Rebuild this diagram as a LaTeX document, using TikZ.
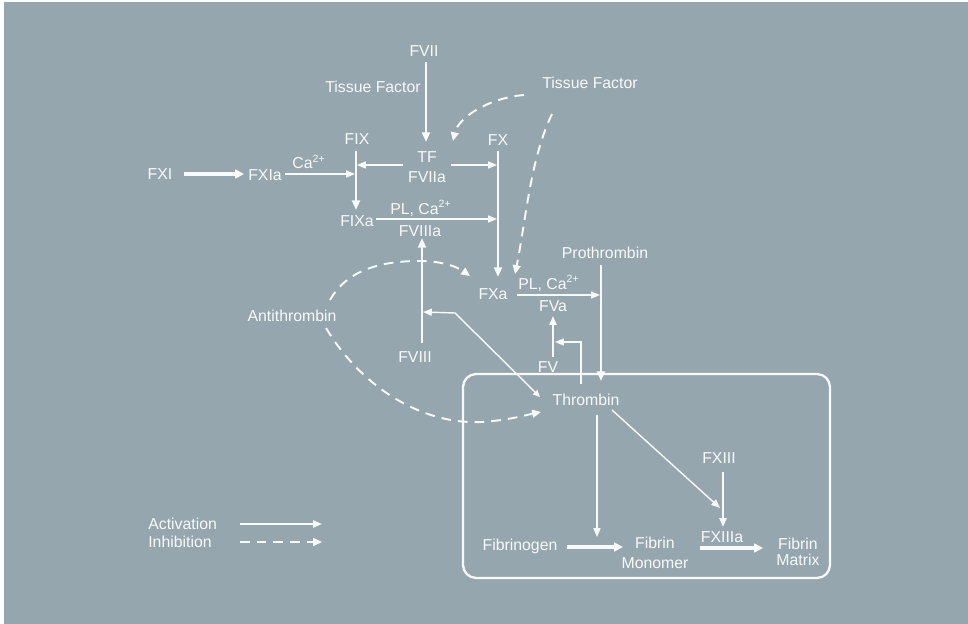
\documentclass[tikz,border=0pt]{standalone}
\usepackage{fontspec}
\setmainfont{Liberation Sans}
\usetikzlibrary{arrows.meta}
\definecolor{bg}{RGB}{150,166,175}
\colorlet{fg}{white!93!bg}
\begin{document}
\begin{tikzpicture}[x=0.02cm,y=-0.02cm,
  lbl/.style={font=\fontsize{9}{11}\selectfont, text=fg, inner sep=0pt, align=center},
  act/.style={draw=fg, line width=0.8pt, -{Triangle[length=5pt,width=4pt]}},
  bar/.style={draw=fg, line width=1.4pt},
  barr/.style={bar, -{Triangle[length=5.5pt,width=4.5pt]}},
  fatarr/.style={draw=fg, line width=1.9pt, -{Triangle[length=5pt,width=5pt]}},
  inh/.style={draw=fg, line width=1.1pt, dash pattern=on 5.5pt off 4pt, -{Triangle[length=5pt,width=4.5pt]}},
  boxline/.style={draw=fg, line width=1.3pt, rounded corners=7.5pt}
]
\useasboundingbox (0,0) rectangle (968,624);
\fill[white] (0,0) rectangle (968,624);
\fill[bg] (4,2) rectangle (968,624);

% labels
\node[lbl] (fvii) at (424,51) {FVII};
\node[lbl] (tfl) at (373,87) {Tissue Factor};
\node[lbl] (tfr) at (590,83) {Tissue Factor};
\node[lbl] (fix) at (357,139) {FIX};
\node[lbl] (fx) at (498,140) {FX};
\node[lbl] (fxi) at (160,174) {FXI};
\node[lbl] (fxia) at (265,175) {FXIa};
\node[lbl] (ca1) at (309,162) {Ca\textsuperscript{2+}};
\node[lbl] (tf) at (427,157) {TF};
\node[lbl] (fviia) at (427,177) {FVIIa};
\node[lbl] (fixa) at (357,221) {FIXa};
\node[lbl] (plca1) at (421,208) {PL, Ca\textsuperscript{2+}};
\node[lbl] (fviiia) at (420,231) {FVIIIa};
\node[lbl] (fxa) at (493,294) {FXa};
\node[lbl] (plca2) at (549,283) {PL, Ca\textsuperscript{2+}};
\node[lbl] (fva) at (553,306) {FVa};
\node[lbl] (pro) at (605,253) {Prothrombin};
\node[lbl] (anti) at (292,316) {Antithrombin};
\node[lbl] (fviii) at (415,357) {FVIII};
\node[lbl] (fv) at (548,367) {FV};
\node[lbl] (thr) at (586,400) {Thrombin};
\node[lbl] (fxiii) at (719,458) {FXIII};
\node[lbl] (fbg) at (520,546) {Fibrinogen};
\node[lbl] (fxiiia) at (722,537) {FXIIIa};
\node[lbl] (fm) at (655,553) {Fibrin\\Monomer};
\node[lbl, font=\fontsize{9}{9.5}\selectfont] (fmx) at (798,552) {Fibrin\\Matrix};
\node[lbl, anchor=west] (lact) at (148,524) {Activation};
\node[lbl, anchor=west] (linh) at (148,542) {Inhibition};

% endpoints
\coordinate (fviiE) at (426,62);   \coordinate (tfN) at (426,142);
\coordinate (fixT) at (356,151);   \coordinate (fixB) at (356,210);
\coordinate (fxT) at (498,151);    \coordinate (fxB) at (498,277);
\coordinate (proT) at (601,265);   \coordinate (proB) at (601,381);
\coordinate (fxiE) at (184,174);   \coordinate (fxiaW) at (244,174);
\coordinate (fxiaE) at (285,174);  \coordinate (fixL) at (355,174);
\coordinate (tfW) at (403,165);    \coordinate (fixR) at (357,165);
\coordinate (tfE) at (451,165);    \coordinate (fxL) at (497,165);
\coordinate (fixaE) at (376,219);  \coordinate (fxL2) at (497,219);
\coordinate (fviiiN) at (422,343); \coordinate (fviiiaS) at (422,238);
\coordinate (thrW) at (540,397);   \coordinate (knee8) at (455,313); \coordinate (fviiiR) at (423,312);
\coordinate (fxaE) at (517,295);   \coordinate (proL) at (600,295);
\coordinate (fvN) at (553,357);    \coordinate (fvaS) at (553,316);
\coordinate (thrN) at (581,384);   \coordinate (fvR) at (555,342);
\coordinate (thrS) at (597,415);   \coordinate (fmN) at (597,537);
\coordinate (thrSE) at (612,410);  \coordinate (fxiiiaNW) at (720,508);
\coordinate (fxiiiS) at (723,472); \coordinate (fxiiiaN) at (723,527);
\coordinate (fbgE) at (567,547);   \coordinate (fmW) at (623,547);
\coordinate (fxiiiaL) at (700,548); \coordinate (fmxW) at (763,548);
\coordinate (lactA) at (240,524);  \coordinate (lactB) at (322,524);
\coordinate (linhA) at (240,542);  \coordinate (linhB) at (322,542);

% solid arrows
\draw[barr] (fviiE) -- (tfN);
\draw[barr] (fixT) -- (fixB);
\draw[barr] (fxT) -- (fxB);
\draw[barr] (proT) -- (proB);
\draw[barr] (fviiiN) -- (fviiiaS);
\draw[fatarr] (fxiE) -- (fxiaW);
\draw[act] (fxiaE) -- (fixL);
\draw[act] (tfW) -- (fixR);
\draw[act] (tfE) -- (fxL);
\draw[act] (fixaE) -- (fxL2);
\draw[act, {Triangle[length=4pt,width=3.5pt]}-{Triangle[length=5pt,width=4pt]}] (thrW) -- (knee8) -- (fviiiR);
\draw[act] (fxaE) -- (proL);
\draw[act, line width=1.1pt] (fvN) -- (fvaS);
\draw[act] (thrN) |- (fvR);
\draw[act] (thrS) -- (fmN);
\draw[act] (thrSE) -- (fxiiiaNW);
\draw[act, line width=1.1pt] (fxiiiS) -- (fxiiiaN);
\draw[fatarr] (fbgE) -- (fmW);
\draw[fatarr] (fxiiiaL) -- (fmxW);
\draw[act, line width=1pt] (lactA) -- (lactB);
\draw[inh, line width=1pt] (linhA) -- (linhB);

% inhibition curves
\coordinate (tfrA) at (524,95);  \coordinate (tfNE) at (453,141);
\coordinate (tfrB) at (552,114); \coordinate (fxaN) at (515,274);
\coordinate (antiN) at (330,300); \coordinate (fxaNW) at (470,276);
\coordinate (antiS) at (326,328); \coordinate (thrWS) at (541,412);
\draw[inh] (tfrA) .. controls (488,98) and (458,118) .. (tfNE);
\draw[inh] (tfrB) .. controls (530,160) and (526,220) .. (fxaN);
\draw[inh] (antiN) .. controls (348,268) and (385,261) .. (420,261)
            .. controls (440,261) and (456,266) .. (fxaNW);
\draw[inh] (antiS) .. controls (360,385) and (420,425) .. (482,422)
            .. controls (510,420) and (526,415) .. (thrWS);

% thrombin box
\draw[boxline] (463,374) rectangle (830,578);
\end{tikzpicture}
\end{document}
